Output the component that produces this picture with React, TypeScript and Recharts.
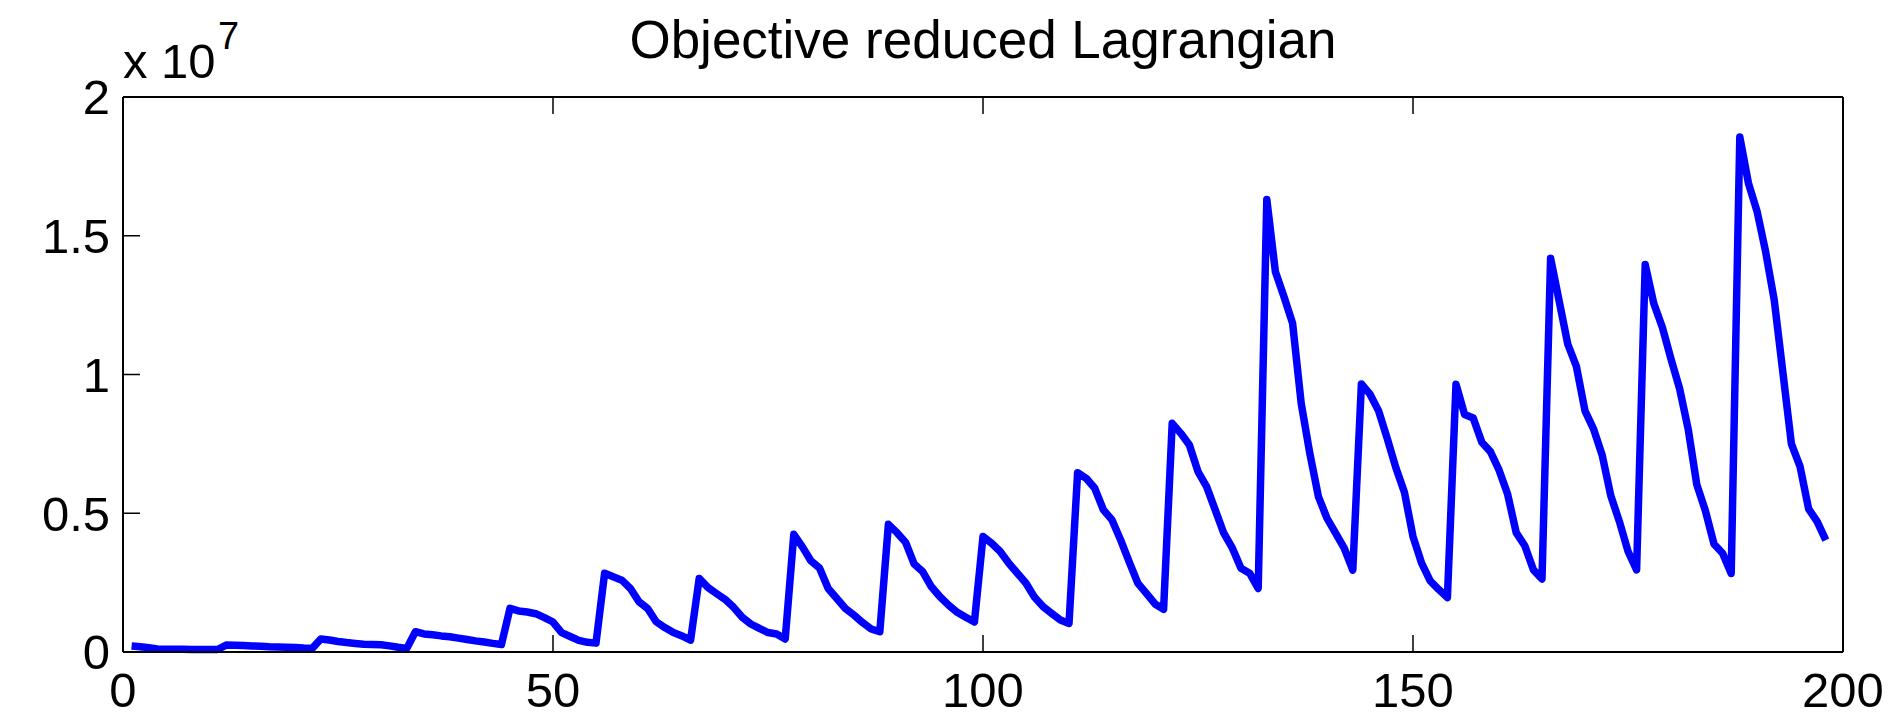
import { Line, LineChart, XAxis, YAxis } from "recharts";

// objective value per iteration, in units of 1e6 (11 iterations per restart)
const objectiveIter1to33 = [
  0.22, 0.19, 0.15, 0.11, 0.1, 0.1, 0.1, 0.09, 0.09, 0.09, 0.09,
  0.25, 0.24, 0.23, 0.22, 0.21, 0.19, 0.18, 0.17, 0.16, 0.14, 0.13,
  0.47, 0.43, 0.38, 0.34, 0.31, 0.28, 0.27, 0.26, 0.22, 0.17, 0.13
];
const objectiveIter34to66 = [
  0.73, 0.65, 0.62, 0.58, 0.55, 0.5, 0.45, 0.4, 0.36, 0.31, 0.27,
  1.57, 1.48, 1.44, 1.38, 1.24, 1.08, 0.7, 0.56, 0.42, 0.35, 0.32,
  2.84, 2.71, 2.59, 2.29, 1.81, 1.57, 1.09, 0.88, 0.7, 0.58, 0.43
];
const objectiveIter67to99 = [
  2.65, 2.33, 2.11, 1.9, 1.61, 1.25, 1.01, 0.85, 0.7, 0.65, 0.47,
  4.24, 3.79, 3.28, 3.02, 2.29, 1.93, 1.57, 1.33, 1.06, 0.83, 0.73,
  4.6, 4.3, 3.95, 3.17, 2.89, 2.35, 1.99, 1.69, 1.43, 1.25, 1.08
];
const objectiveIter100to132 = [
  4.16, 3.92, 3.62, 3.2, 2.84, 2.48, 1.97, 1.63, 1.39, 1.15, 1.03,
  6.46, 6.26, 5.9, 5.12, 4.76, 4.04, 3.25, 2.48, 2.11, 1.73, 1.54,
  8.24, 7.88, 7.46, 6.5, 5.96, 5.12, 4.28, 3.74, 3.02, 2.84, 2.29
];
const objectiveIter133to165 = [
  16.31, 13.7, 12.8, 11.84, 8.96, 7.16, 5.6, 4.82, 4.28, 3.74, 2.95,
  9.66, 9.29, 8.69, 7.7, 6.65, 5.76, 4.16, 3.2, 2.56, 2.25, 1.96,
  9.65, 8.56, 8.43, 7.56, 7.22, 6.56, 5.69, 4.3, 3.83, 2.96, 2.63
];
const objectiveIter166to198 = [
  14.19, 12.64, 11.09, 10.29, 8.69, 8.03, 7.09, 5.63, 4.7, 3.63, 2.96,
  13.96, 12.56, 11.69, 10.56, 9.49, 8.03, 6.03, 5.09, 3.89, 3.56, 2.83,
  18.56, 16.9, 15.89, 14.43, 12.69, 10.1, 7.5, 6.69, 5.16, 4.7, 4.03
];

const xTicks = [0, 50, 100, 150, 200];
const yTicks = [0, 0.5e7, 1e7, 1.5e7, 2e7];

const objective = [
  ...objectiveIter1to33,
  ...objectiveIter34to66,
  ...objectiveIter67to99,
  ...objectiveIter100to132,
  ...objectiveIter133to165,
  ...objectiveIter166to198
];
const data = objective.map((v, i) => ({ iter: i + 1, value: v * 1e6 }));

const font = "'Liberation Sans', Arial, Helvetica, sans-serif";
const tickStyle = { fill: "#000", fontSize: 49, fontFamily: font };
const noLabel = { fill: "none", fontSize: 1 };
const axisLine = { stroke: "#000", strokeWidth: 2 };
const tickLine = { stroke: "#000", strokeWidth: 1.5 };
const blank = () => "";

export default function App() {
  return (
    <div style={{ position: "absolute", left: 0, top: 0, width: 1900, height: 718, background: "#fff" }}>
      <div
        style={{
          position: "absolute",
          left: 123,
          width: 1720,
          top: 13,
          textAlign: "center",
          fontFamily: font,
          fontSize: 53,
          lineHeight: "53px",
          color: "#000"
        }}
      >
        Objective reduced Lagrangian
      </div>
      <div style={{ position: "absolute", left: 123, top: 37, fontFamily: font, fontSize: 49, lineHeight: "49px" }}>
        x 10
      </div>
      <div style={{ position: "absolute", left: 218, top: 17, fontFamily: font, fontSize: 38, lineHeight: "38px" }}>
        7
      </div>
      <LineChart width={1900} height={718} data={data} margin={{ top: 96, right: 56, bottom: 0, left: 0 }}>
        <XAxis
          xAxisId="bottom"
          dataKey="iter"
          type="number"
          domain={[0, 200]}
          ticks={xTicks}
          interval={0}
          height={66}
          tickSize={-17}
          tickMargin={37}
          tick={tickStyle}
          axisLine={axisLine}
          tickLine={tickLine}
        />
        <XAxis
          xAxisId="top"
          orientation="top"
          dataKey="iter"
          type="number"
          domain={[0, 200]}
          ticks={xTicks}
          interval={0}
          height={1}
          tickSize={-17}
          tick={noLabel}
          tickFormatter={blank}
          axisLine={axisLine}
          tickLine={tickLine}
        />
        <YAxis
          yAxisId="left"
          type="number"
          domain={[0, 2e7]}
          ticks={yTicks}
          interval={0}
          width={123}
          tickSize={-17}
          tickMargin={30}
          tick={tickStyle}
          tickFormatter={(v: number) => String(v / 1e7)}
          axisLine={axisLine}
          tickLine={tickLine}
        />
        <YAxis
          yAxisId="right"
          orientation="right"
          type="number"
          domain={[0, 2e7]}
          ticks={yTicks}
          interval={0}
          width={1}
          tickSize={-17}
          tick={noLabel}
          tickFormatter={blank}
          axisLine={axisLine}
          tickLine={tickLine}
        />
        <Line
          xAxisId="bottom"
          yAxisId="left"
          type="linear"
          dataKey="value"
          stroke="#0000ff"
          strokeWidth={7.5}
          strokeLinejoin="round"
          dot={false}
          isAnimationActive={false}
        />
      </LineChart>
    </div>
  );
}
